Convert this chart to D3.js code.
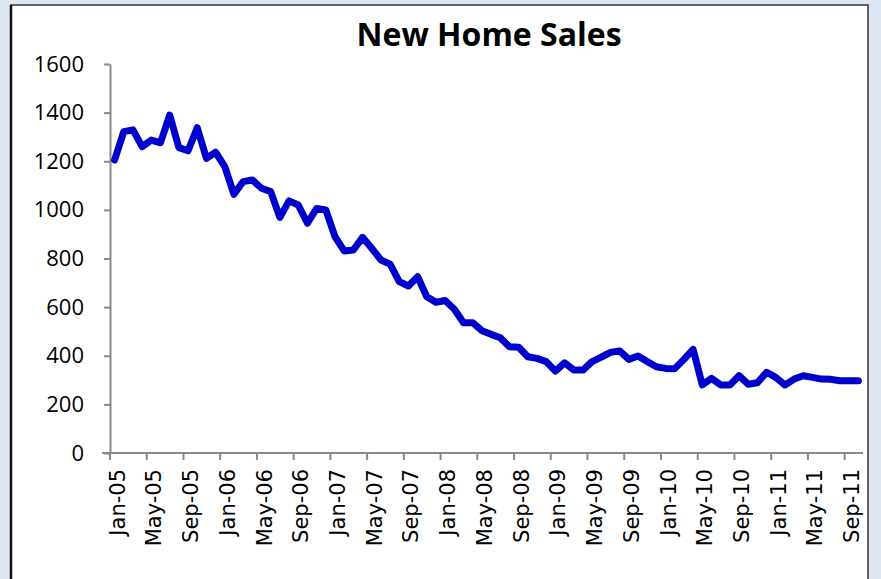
<!DOCTYPE html>
<html>
<head>
<meta charset="utf-8">
<script src="https://cdn.jsdelivr.net/npm/d3@7"></script>
<style>
  body { margin: 0; background: #dde6f2; }
  svg { display: block; }
</style>
</head>
<body>
<svg width="881" height="579"></svg>
<script>
// ************************************************************************************** //

// Monthly categories Jan-05 .. Oct-11
var months = d3.timeMonth.range(new Date(2005, 0, 1), new Date(2011, 10, 1));
var fmtMonth = d3.timeFormat('%b-%y');

// New home sales (thousands, annual rate)
var sales = [
  1205, 1322, 1329, 1260, 1287, 1276, 1390, 1256, 1243, 1338, 1212, 1237,
  1178, 1064, 1116, 1123, 1089, 1075,  969, 1037, 1020,  945, 1006, 1000,
   890,  831,  835,  887,  842,  794,  777,  705,  687,  725,  643,  620,
   627,  591,  536,  536,  503,  488,  474,  437,  435,  396,  389,  376,
   337,  371,  341,  341,  376,  394,  414,  420,  385,  399,  376,  355,
   348,  347,  385,  426,  280,  307,  280,  280,  318,  283,  289,  332,
   311,  280,  304,  318,  311,  304,  303,  297,  297,  297
];

var yTicks = [0, 200, 400, 600, 800, 1000, 1200, 1400, 1600];
var chartTitle = 'New Home Sales';

var svg = d3.select('svg');

// Chart area frame
svg.append('rect')
  .attr('x', 11).attr('y', 5).attr('width', 857).attr('height', 600)
  .style('fill', 'white').style('stroke', '#333').style('stroke-width', 1.5);
svg.append('line')
  .attr('x1', 11).attr('y1', 5).attr('x2', 11).attr('y2', 579)
  .style('stroke', '#111').style('stroke-width', 2.5);

// Scales
var x = d3.scaleBand().domain(months.map(fmtMonth)).range([110, 863]).padding(0);
var y = d3.scaleLinear().domain([0, 1600]).range([453, 64]);

// Title
svg.append('text')
  .attr('x', 489).attr('y', 46)
  .style('text-anchor', 'middle')
  .style('font-family', '"Open Sans", sans-serif')
  .style('font-weight', 'bold').style('font-size', '32px')
  .style('fill', '#000')
  .text(chartTitle);

// Y axis
var yAxis = svg.append('g')
  .attr('transform', 'translate(110,0)')
  .call(d3.axisLeft(y).tickValues(yTicks).tickFormat(d3.format('d')).tickSize(6).tickPadding(20).tickSizeOuter(0));
yAxis.select('.domain').style('stroke', '#898989').style('stroke-width', 2);
yAxis.selectAll('.tick line').style('stroke', '#898989').style('stroke-width', 2);
yAxis.selectAll('.tick text')
  .style('font-family', '"Open Sans", sans-serif').style('font-size', '22px').style('fill', '#000');

// X axis: ticks every 4 months at band boundaries, labels at band centres
var tickCats = months.map(fmtMonth).filter(function(d, i){ return i % 4 == 0; });
var xg = svg.append('g').attr('transform', 'translate(0,453)');
xg.append('line')
  .attr('x1', 102).attr('x2', x.range()[1]).attr('y1', 0).attr('y2', 0)
  .style('stroke', '#898989').style('stroke-width', 2);
xg.selectAll('.xtick').data(tickCats).enter().append('line')
  .attr('class', 'xtick')
  .attr('x1', function(d){ return x(d); }).attr('x2', function(d){ return x(d); })
  .attr('y1', 0).attr('y2', 7)
  .style('stroke', '#898989').style('stroke-width', 2);
xg.selectAll('.xlab').data(tickCats).enter().append('text')
  .attr('class', 'xlab')
  .attr('transform', function(d){ return 'translate(' + (x(d) + x.bandwidth()/2 + 10) + ',16) rotate(-90)'; })
  .style('text-anchor', 'end')
  .style('font-family', '"DejaVu Sans", sans-serif').style('font-size', '21px').style('fill', '#000')
  .text(function(d){ return d; });

// Line
var line = d3.line()
  .x(function(d, i){ return x(fmtMonth(months[i])) + x.bandwidth()/2; })
  .y(function(d){ return y(d); });
svg.append('path')
  .datum(sales)
  .attr('d', line)
  .style('fill', 'none').style('stroke', '#0000cc').style('stroke-width', 7)
  .style('stroke-linejoin', 'round').style('stroke-linecap', 'round');
</script>
</body>
</html>
